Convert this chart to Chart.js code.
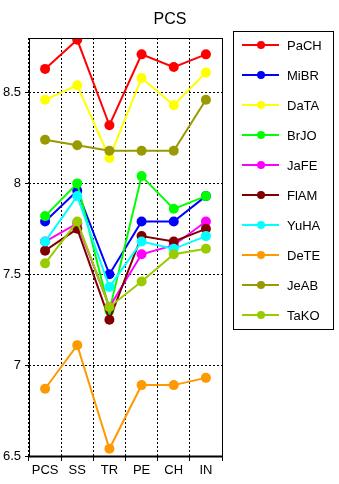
<!DOCTYPE html>
<html>
<head>
<meta charset="utf-8">
<script src="https://cdn.jsdelivr.net/npm/chart.js@4"></script>
<style>
  html, body { margin: 0; padding: 0; background: #fff; }
  #wrap { width: 339px; height: 484px; }
</style>
</head>
<body>
<div id="wrap"><canvas id="pcsChart" width="339" height="484"></canvas></div>
<script>
// categories and series
const categories = ["PCS", "SS", "TR", "PE", "CH", "IN"];
const names = ["PaCH", "MiBR", "DaTA", "BrJO", "JaFE", "FlAM", "YuHA", "DeTE", "JeAB", "TaKO"];
const colors = ["#ff0000", "#0000ff", "#ffff00", "#00ff00", "#ff00ff", "#800000", "#00ffff", "#ff9900", "#999900", "#99cc00"];

const paCH = [8.63, 8.79, 8.32, 8.71, 8.64, 8.71];
const miBR = [7.79, 7.96, 7.50, 7.79, 7.79, 7.93];
const daTA = [8.46, 8.54, 8.14, 8.58, 8.43, 8.61];
const brJO = [7.82, 8.00, 7.30, 8.04, 7.86, 7.93];
const jaFE = [7.68, 7.78, 7.32, 7.61, 7.66, 7.79];
const flAM = [7.63, 7.75, 7.25, 7.71, 7.68, 7.75];
const yuHA = [7.68, 7.93, 7.43, 7.68, 7.64, 7.71];
const deTE = [6.87, 7.11, 6.54, 6.89, 6.89, 6.93];
const jeAB = [8.24, 8.21, 8.18, 8.18, 8.18, 8.46];
const taKO = [7.56, 7.79, 7.32, 7.46, 7.61, 7.64];
const series = [paCH, miBR, daTA, brJO, jaFE, flAM, yuHA, deTE, jeAB, taKO];

const yTicks = [6.5, 7, 7.5, 8, 8.5];

const FONT = "'Liberation Sans', Arial, sans-serif";

// frame around the plot, title and boxed legend
const decor = {
  id: "decor",
  afterDraw(chart) {
    const { ctx, chartArea: a } = chart;
    ctx.save();
    ctx.strokeStyle = "#000";
    ctx.lineWidth = 1;
    ctx.strokeRect(a.left + 0.5, a.top + 0.5, a.right - a.left, a.bottom - a.top);
    ctx.lineWidth = 2;
    ctx.beginPath();
    ctx.moveTo(a.left, a.bottom + 0.5);
    ctx.lineTo(a.right + 1, a.bottom + 0.5);
    ctx.stroke();

    ctx.fillStyle = "#000";
    ctx.font = "16px " + FONT;
    ctx.textAlign = "center";
    ctx.textBaseline = "middle";
    ctx.fillText("PCS", 170, 20);

    // legend
    ctx.lineWidth = 1;
    ctx.strokeRect(233.5, 31.5, 100, 298);
    ctx.font = "13px " + FONT;
    ctx.textAlign = "left";
    names.forEach((n, i) => {
      const y = 45 + i * 30;
      ctx.strokeStyle = colors[i];
      ctx.lineWidth = 2;
      ctx.beginPath();
      ctx.moveTo(242, y);
      ctx.lineTo(279, y);
      ctx.stroke();
      ctx.fillStyle = colors[i];
      ctx.beginPath();
      ctx.arc(261, y, 4, 0, Math.PI * 2);
      ctx.fill();
      ctx.fillStyle = "#000";
      ctx.fillText(n, 287, y + 1);
    });
    ctx.restore();
  }
};

new Chart(document.getElementById("pcsChart"), {
  type: "line",
  data: {
    labels: categories,
    datasets: names.map((n, i) => ({
      label: n,
      data: series[i],
      order: names.length - i, // later series drawn on top
      borderColor: colors[i],
      backgroundColor: colors[i],
      borderWidth: 2,
      pointRadius: 5,
      pointHoverRadius: 5,
      pointBorderWidth: 0,
      tension: 0
    }))
  },
  options: {
    responsive: false,
    animation: false,
    layout: { padding: { left: 0, right: 117, top: 38, bottom: 0 } },
    plugins: { legend: { display: false }, title: { display: false }, tooltip: { enabled: false } },
    scales: {
      x: {
        offset: true,
        grid: { offset: true, color: "#000", lineWidth: 1, drawTicks: true, tickLength: 5, tickColor: "#000", tickBorderDash: [] },
        border: { display: false, dash: [2, 2] },
        ticks: { color: "#000", font: { family: FONT, size: 13 }, padding: 2, maxRotation: 0 },
        afterFit(s) { s.height = 28; }
      },
      y: {
        min: 6.5,
        max: 8.8,
        afterBuildTicks(s) { s.ticks = yTicks.map(v => ({ value: v })); },
        grid: { color: "#000", lineWidth: 1, drawTicks: true, tickLength: 4, tickColor: "#000", tickBorderDash: [] },
        border: { display: false, dash: [2, 2] },
        ticks: { color: "#000", font: { family: FONT, size: 13 }, padding: 4, callback: v => String(v) },
        afterFit(s) { s.width = 29; }
      }
    }
  },
  plugins: [decor]
});
</script>
</body>
</html>
